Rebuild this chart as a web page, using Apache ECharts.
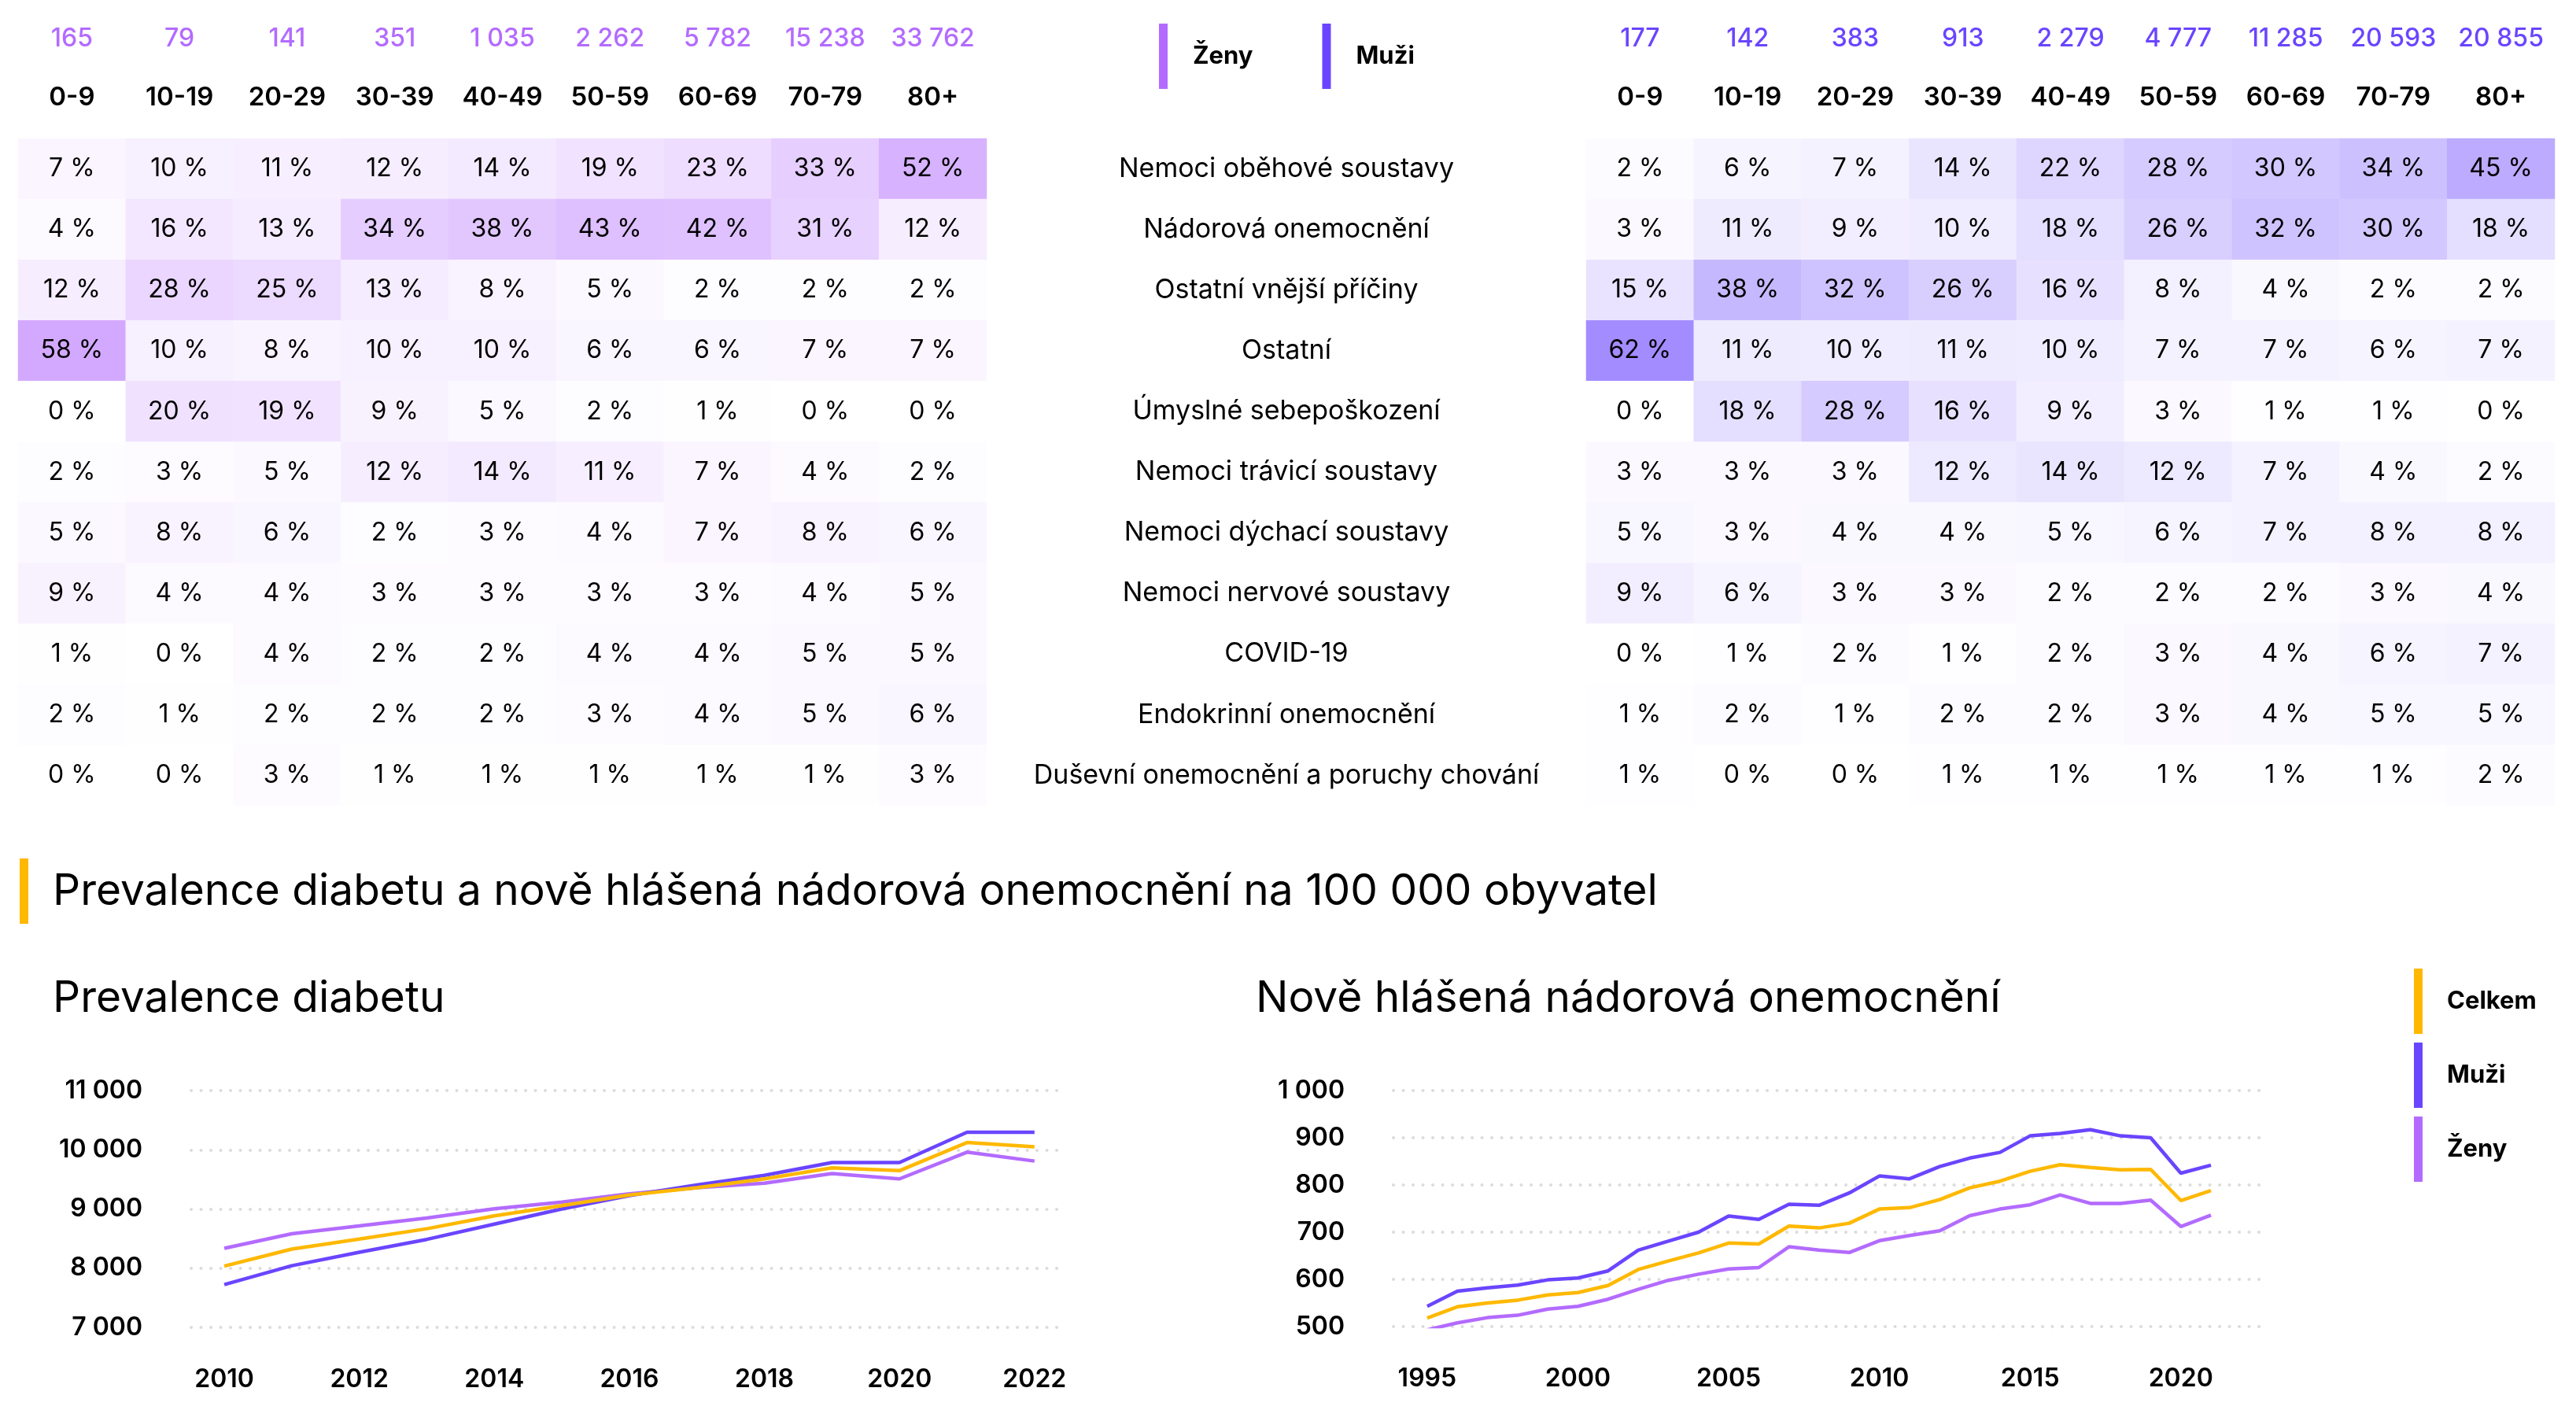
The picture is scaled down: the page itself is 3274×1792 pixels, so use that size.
<!DOCTYPE html>
<html>
<head>
<meta charset="utf-8">
<script src="https://cdn.jsdelivr.net/npm/echarts@6/dist/echarts.min.js"></script>
<style>
html,body{margin:0;padding:0;background:#fff;}
#c{width:3274px;height:1792px;}
</style>
</head>
<body>
<div id="c"></div>
<script>
// ---------- DATA ----------
const ages = ['0-9','10-19','20-29','30-39','40-49','50-59','60-69','70-79','80+'];
const causes = ['Nemoci oběhové soustavy','Nádorová onemocnění','Ostatní vnější příčiny','Ostatní','Úmyslné sebepoškození','Nemoci trávicí soustavy','Nemoci dýchací soustavy','Nemoci nervové soustavy','COVID-19','Endokrinní onemocnění','Duševní onemocnění a poruchy chování'];
const countsWomen = [165, 79, 141, 351, 1035, 2262, 5782, 15238, 33762];
const countsMen = [177, 142, 383, 913, 2279, 4777, 11285, 20593, 20855];
const sharesWomen = [
  [7,10,11,12,14,19,23,33,52],
  [4,16,13,34,38,43,42,31,12],
  [12,28,25,13,8,5,2,2,2],
  [58,10,8,10,10,6,6,7,7],
  [0,20,19,9,5,2,1,0,0],
  [2,3,5,12,14,11,7,4,2],
  [5,8,6,2,3,4,7,8,6],
  [9,4,4,3,3,3,3,4,5],
  [1,0,4,2,2,4,4,5,5],
  [2,1,2,2,2,3,4,5,6],
  [0,0,3,1,1,1,1,1,3]
];
const sharesMen = [
  [2,6,7,14,22,28,30,34,45],
  [3,11,9,10,18,26,32,30,18],
  [15,38,32,26,16,8,4,2,2],
  [62,11,10,11,10,7,7,6,7],
  [0,18,28,16,9,3,1,1,0],
  [3,3,3,12,14,12,7,4,2],
  [5,3,4,4,5,6,7,8,8],
  [9,6,3,3,2,2,2,3,4],
  [0,1,2,1,2,3,4,6,7],
  [1,2,1,2,2,3,4,5,5],
  [1,0,0,1,1,1,1,1,2]
];
const diabYears = [2010,2011,2012,2013,2014,2015,2016,2017,2018,2019,2020,2021,2022];
const diabTotal = [8035,8323,8492,8666,8883,9057,9237,9358,9508,9695,9647,10122,10050];
const diabMen   = [7722,8041,8270,8486,8744,9000,9226,9406,9568,9785,9785,10296,10296];
const diabWomen = [8335,8582,8714,8847,9003,9117,9256,9358,9436,9598,9508,9959,9809];
const diabTicksX = [2010,2012,2014,2016,2018,2020,2022];
const cancerYears = [1995,1996,1997,1998,1999,2000,2001,2002,2003,2004,2005,2006,2007,2008,2009,2010,2011,2012,2013,2014,2015,2016,2017,2018,2019,2020,2021];
const cancerMen   = [543,575,582,588,599,603,618,662,681,700,734,727,759,757,783,819,813,839,857,869,904,909,917,904,900,825,842];
const cancerTotal = [518,542,550,556,567,572,587,621,639,656,677,675,713,709,719,749,752,769,794,808,829,843,837,832,833,767,788];
const cancerWomen = [493,508,519,524,537,543,558,579,598,611,622,625,669,662,657,682,693,703,735,749,758,779,761,761,768,712,736];
const cancerTicksX = [1995,2000,2005,2010,2015,2020];

// ---------- STYLE ----------
const FF = 'Inter, Roboto, sans-serif';
const C_TOTAL = '#FFB800', C_MEN = '#6A45FF', C_WOMEN = '#B36BFF';
const fmt = n => String(n).replace(/\B(?=(\d{3})+(?!\d))/g, ' ');

function heatData(m){
  const out = [];
  m.forEach((row, r) => row.forEach((v, c) => out.push([c, r, v])));
  return out;
}
function pairs(xs, ys){ return xs.map((x, i) => [x, ys[i]]); }

function heatX(gridIndex, counts, color){
  return {
    type:'category', gridIndex, data: ages, position:'top',
    axisLine:{show:false}, axisTick:{show:false}, splitLine:{show:false},
    axisLabel:{
      interval:0, margin:14, verticalAlign:'bottom',
      formatter:(v, i) => '{n|' + fmt(counts[i]) + '}\n{a|' + v + '}',
      rich:{
        n:{color, fontSize:32, fontFamily:FF, lineHeight:75, fontWeight:500},
        a:{color:'#000', fontSize:33, fontFamily:FF, lineHeight:75, fontWeight:600}
      }
    }
  };
}
function heatY(gridIndex, showLabels){
  return {
    type:'category', gridIndex, data: causes, inverse:true, position:'right',
    axisLine:{show:false}, axisTick:{show:false}, splitLine:{show:false},
    axisLabel: showLabels ? {show:true, align:'center', margin:381, color:'#000', fontSize:34, fontFamily:FF} : {show:false}
  };
}
function lineY(gridIndex, min, max, interval){
  return {
    type:'value', gridIndex, min, max, interval,
    axisLine:{show:false}, axisTick:{show:false},
    splitLine:{show:true, lineStyle:{color:'#dcdcdc', width:4, type:[0.1,12.4], cap:'round'}},
    axisLabel:{margin:62, color:'#000', fontSize:32, fontWeight:600, fontFamily:FF, formatter: v => fmt(v)}
  };
}
function lineX(gridIndex, min, max, ticks){
  return {
    type:'value', gridIndex, min, max,
    axisLine:{show:false}, axisTick:{show:false}, splitLine:{show:false},
    axisLabel:{customValues: ticks, margin:66, verticalAlign:'middle', color:'#000', fontSize:32, fontWeight:600, fontFamily:FF, formatter: v => String(v)}
  };
}
function lineS(name, color, xi, data){
  return {
    name, type:'line', xAxisIndex:xi, yAxisIndex:xi, data, showSymbol:false, symbol:'none',
    color, itemStyle:{color}, lineStyle:{color, width:4.5}, emphasis:{disabled:true}, silent:true
  };
}

const chart = echarts.init(document.getElementById('c'));
chart.setOption({
  backgroundColor:'#fff',
  animation:false,
  textStyle:{fontFamily:FF},
  title:[
    {text:'Prevalence diabetu a nově hlášená nádorová onemocnění na 100 000 obyvatel', left:67, top:1106,
     textStyle:{fontSize:55, fontWeight:400, color:'#000', fontFamily:FF}, padding:0},
    {text:'Prevalence diabetu', left:67, top:1242, textStyle:{fontSize:55, fontWeight:400, color:'#000', fontFamily:FF}, padding:0},
    {text:'Nově hlášená nádorová onemocnění', left:1596, top:1242, textStyle:{fontSize:55, fontWeight:400, color:'#000', fontFamily:FF}, padding:0}
  ],
  graphic:[
    {type:'rect', left:25, top:1091, shape:{width:11, height:83}, style:{fill:C_TOTAL}}
  ],
  legend:[
    {data:['Ženy','Muži'], left:1468, top:25, orient:'horizontal', icon:'rect', itemWidth:11, itemHeight:83, itemGap:88,
     selectedMode:false, textStyle:{fontSize:31, fontWeight:700, color:'#000', fontFamily:FF, padding:[0,0,0,27]}},
    {data:['Celkem','Muži','Ženy'], left:3063, top:1226, orient:'vertical', icon:'rect', itemWidth:11, itemHeight:83, itemGap:11,
     selectedMode:false, textStyle:{fontSize:31, fontWeight:700, color:'#000', fontFamily:FF, padding:[0,0,0,26]}}
  ],
  grid:[
    {left:23, top:176, width:1231, height:848},
    {left:2016, top:176, width:1231, height:848},
    {left:243, top:1386, width:1107, height:301},
    {left:1771, top:1386, width:1108, height:300}
  ],
  xAxis:[
    heatX(0, countsWomen, C_WOMEN),
    heatX(1, countsMen, C_MEN),
    lineX(2, 2009.51, 2022.41, diabTicksX),
    lineX(3, 1993.88, 2022.8, cancerTicksX)
  ],
  yAxis:[
    heatY(0, true),
    heatY(1, false),
    lineY(2, 7000, 11000, 1000),
    lineY(3, 500, 1000, 100)
  ],
  visualMap:[
    {type:'continuous', show:false, min:0, max:100, seriesIndex:0, inRange:{color:['#ffffff', C_WOMEN]}},
    {type:'continuous', show:false, min:0, max:100, seriesIndex:1, inRange:{color:['#ffffff', C_MEN]}}
  ],
  series:[
    {name:'Ženy – příčiny', type:'heatmap', xAxisIndex:0, yAxisIndex:0, data:heatData(sharesWomen), silent:true,
     label:{show:true, color:'#000', fontSize:32, fontFamily:FF, formatter:p => p.value[2] + ' %'}, emphasis:{disabled:true}},
    {name:'Muži – příčiny', type:'heatmap', xAxisIndex:1, yAxisIndex:1, data:heatData(sharesMen), silent:true,
     label:{show:true, color:'#000', fontSize:32, fontFamily:FF, formatter:p => p.value[2] + ' %'}, emphasis:{disabled:true}},
    lineS('Ženy', C_WOMEN, 2, pairs(diabYears, diabWomen)),
    lineS('Muži', C_MEN, 2, pairs(diabYears, diabMen)),
    lineS('Celkem', C_TOTAL, 2, pairs(diabYears, diabTotal)),
    lineS('Ženy', C_WOMEN, 3, pairs(cancerYears, cancerWomen)),
    lineS('Muži', C_MEN, 3, pairs(cancerYears, cancerMen)),
    lineS('Celkem', C_TOTAL, 3, pairs(cancerYears, cancerTotal))
  ]
});
</script>
</body>
</html>
